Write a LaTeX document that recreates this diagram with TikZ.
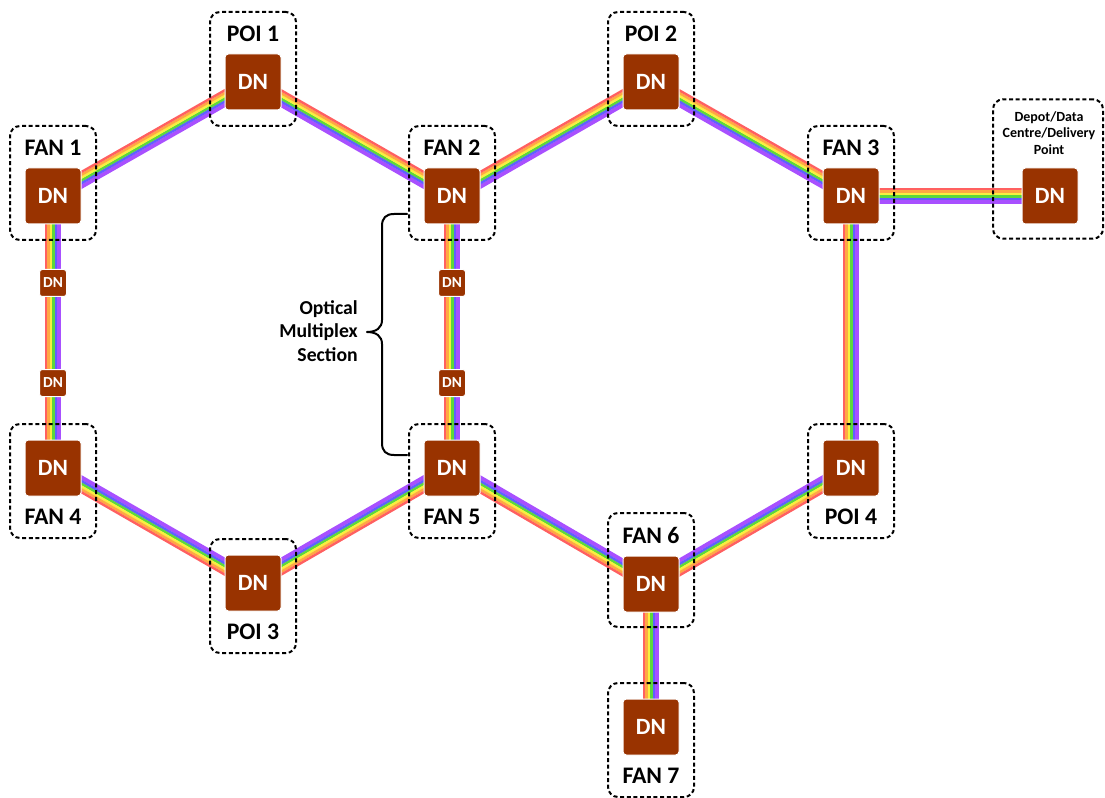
\documentclass[tikz,border=0pt]{standalone}
\usepackage{fontspec}
\setmainfont{Carlito}
\usetikzlibrary{calc,backgrounds}
\definecolor{dnbrown}{HTML}{993300}
\definecolor{rbred}{HTML}{FF6060}
\definecolor{rborange}{HTML}{FFA844}
\definecolor{rbyellow}{HTML}{F8F040}
\definecolor{rbgreen}{HTML}{5CD83C}
\definecolor{rbblue}{HTML}{6060FF}
\definecolor{rbviolet}{HTML}{A850FF}
\newcommand\rainbowlink[2]{%
  \foreach \cc/\oo/\ww in {rbviolet/-4.5pt/3.1pt, rbblue/-2.1pt/1.95pt, rbgreen/-0.3pt/1.95pt, rbyellow/1.5pt/1.95pt, rborange/3.3pt/1.95pt, rbred/5.1pt/1.8pt}{%
    \draw[line width=\ww, draw=\cc] ($(#1)!\oo!90:(#2)$) -- ($(#2)!\oo!-90:(#1)$);}}
\begin{document}
\begin{tikzpicture}[x=0.75pt,y=-0.75pt,
  dn/.style={fill=dnbrown, draw=white, line width=0.75pt, rounded corners=2.5pt,
    minimum width=42pt, minimum height=42pt, inner sep=0pt, text=white,
    font=\fontsize{17.5}{20}\selectfont\bfseries},
  dnsmall/.style={dn, minimum width=20.25pt, minimum height=20.25pt, rounded corners=2pt,
    font=\fontsize{11.5}{13}\selectfont\bfseries},
  grp/.style={draw=black, line width=1.5pt, dash pattern=on 3pt off 2pt,
    rounded corners=7.5pt, minimum width=64.5pt, minimum height=85.5pt, inner sep=0pt},
  lbl/.style={font=\fontsize{17.8}{20}\selectfont\bfseries, inner sep=0pt},
  smalltxt/.style={font=\fontsize{10.5}{12.4}\selectfont\bfseries, align=center, inner sep=0pt},
  bracetxt/.style={font=\fontsize{14.8}{17.6}\selectfont\bfseries, align=right, inner sep=0pt}
]
\useasboundingbox (0,0) rectangle (1105,798);

% group boxes (label above: centre -13, label below: centre +13)
\node[grp] (gpoi1) at (253,69) {};
\node[grp] (gpoi2) at (651,69) {};
\node[grp] (gfan1) at (53,183) {};
\node[grp] (gfan2) at (452,183) {};
\node[grp] (gfan3) at (851,183) {};
\node[grp, minimum width=82.5pt, minimum height=104.5pt] (gdepot) at (1048,169) {};
\node[grp] (gfan4) at (53,481) {};
\node[grp] (gfan5) at (452,481) {};
\node[grp] (gpoi4) at (851,481) {};
\node[grp] (gpoi3) at (253,596) {};
\node[grp] (gfan6) at (651,570) {};
\node[grp] (gfan7) at (651,740) {};

% labels
\node[lbl] (lpoi1) at (253,34) {POI 1};
\node[lbl] (lpoi2) at (651,34) {POI 2};
\node[lbl] (lfan1) at (53,148) {FAN 1};
\node[lbl] (lfan2) at (452,148) {FAN 2};
\node[lbl] (lfan3) at (851,148) {FAN 3};
\node[smalltxt] (ldepot) at (1049,133) {Depot/Data\\Centre/Delivery\\Point};
\node[lbl] (lfan4) at (53,517) {FAN 4};
\node[lbl] (lfan5) at (452,517) {FAN 5};
\node[lbl] (lpoi4) at (851,517) {POI 4};
\node[lbl] (lpoi3) at (253,632) {POI 3};
\node[lbl] (lfan6) at (651,535) {FAN 6};
\node[lbl] (lfan7) at (651,776) {FAN 7};

% DN nodes
\node[dn] (poi1) at (253,82) {DN};
\node[dn] (poi2) at (651,82) {DN};
\node[dn] (fan1) at (53,196) {DN};
\node[dn] (fan2) at (452,196) {DN};
\node[dn] (fan3) at (851,196) {DN};
\node[dn] (depot) at (1050,196) {DN};
\node[dn] (fan4) at (53,468) {DN};
\node[dn] (fan5) at (452,468) {DN};
\node[dn] (poi4) at (851,468) {DN};
\node[dn] (poi3) at (253,583) {DN};
\node[dn] (fan6) at (651,584) {DN};
\node[dn] (fan7) at (651,727) {DN};
\node[dnsmall] (s1) at (53,283) {DN};
\node[dnsmall] (s2) at (53,383) {DN};
\node[dnsmall] (s3) at (452,283) {DN};
\node[dnsmall] (s4) at (452,383) {DN};

% rainbow links
\begin{pgfonlayer}{background}
\rainbowlink{fan1}{poi1}
\rainbowlink{poi1}{fan2}
\rainbowlink{fan2}{poi2}
\rainbowlink{poi2}{fan3}
\rainbowlink{fan3}{depot}
\rainbowlink{fan4}{fan1}
\rainbowlink{fan5}{fan2}
\rainbowlink{poi4}{fan3}
\rainbowlink{fan7}{fan6}
\rainbowlink{poi3}{fan4}
\rainbowlink{fan5}{poi3}
\rainbowlink{fan6}{fan5}
\rainbowlink{poi4}{fan6}
\end{pgfonlayer}

% brace
\coordinate (btop) at (407,214);
\coordinate (bbot) at (407,455);
\draw[line width=1.5pt, line cap=round, line join=round]
  (btop) -- (394,214) .. controls (386,214) and (382,218) .. (382,226)
  -- (382,320) .. controls (382,328) and (376,332) .. (367,332)
  .. controls (376,332) and (382,336) .. (382,344)
  -- (382,443) .. controls (382,451) and (386,455) .. (394,455) -- (bbot);
\node[bracetxt, anchor=east] (oms) at (358,331) {Optical\\Multiplex\\Section};
\end{tikzpicture}
\end{document}
